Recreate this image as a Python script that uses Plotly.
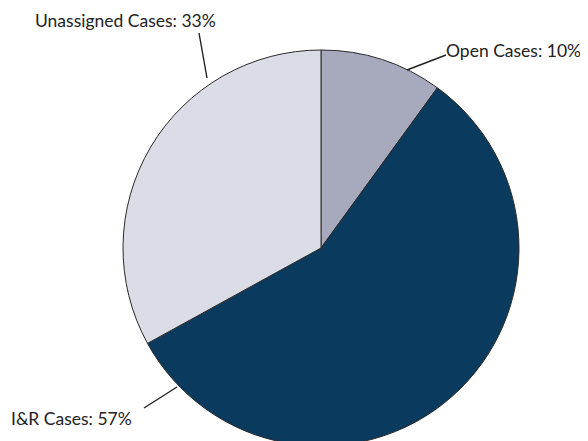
import plotly.graph_objects as go

categories = ["Open Cases", "I&R Cases", "Unassigned Cases"]
values = [10, 57, 33]
colors = ["#a7a9bc", "#0a3a5e", "#dadde5"]

W, H = 588, 441
OFF = 8  # page body margin in the browser

fig = go.Figure(go.Pie(
    labels=categories,
    values=values,
    sort=False,
    direction="clockwise",
    rotation=0,
    marker=dict(colors=colors, line=dict(color="#2a2a2a", width=1)),
    textinfo="none",
    hoverinfo="label+percent",
    domain=dict(x=[115 / W, 511 / W], y=[3 / H, 399 / H]),
    showlegend=False,
))

def px(x):
    return (x - OFF) / W

def py(y):
    return 1 - (y - OFF) / H

# label placements (text position, leader line start/end in screen pixels)
label_layout = {
    "Unassigned Cases": dict(tx=33, ty=21, line=((199, 33), (207, 78))),
    "Open Cases": dict(tx=444, ty=50, line=((407, 70), (446, 55))),
    "I&R Cases": dict(tx=9, ty=418, line=((144, 408), (177, 387))),
}

font = dict(family="Lato, 'Open Sans', sans-serif", size=17.5, color="#222222")
total = sum(values)
for cat, val in zip(categories, values):
    L = label_layout[cat]
    fig.add_annotation(
        x=px(L["tx"]), y=py(L["ty"]), xref="paper", yref="paper",
        xanchor="left", yanchor="middle", showarrow=False,
        text=f"{cat}: {round(100 * val / total)}%", font=font,
    )
    (x0, y0), (x1, y1) = L["line"]
    fig.add_shape(type="line", xref="paper", yref="paper",
                  x0=px(x0), y0=py(y0), x1=px(x1), y1=py(y1),
                  line=dict(color="#222222", width=1.4))

fig.update_layout(
    width=W, height=H,
    margin=dict(l=0, r=0, t=0, b=0),
    paper_bgcolor="white",
    plot_bgcolor="white",
)

fig.write_html("out.html")
